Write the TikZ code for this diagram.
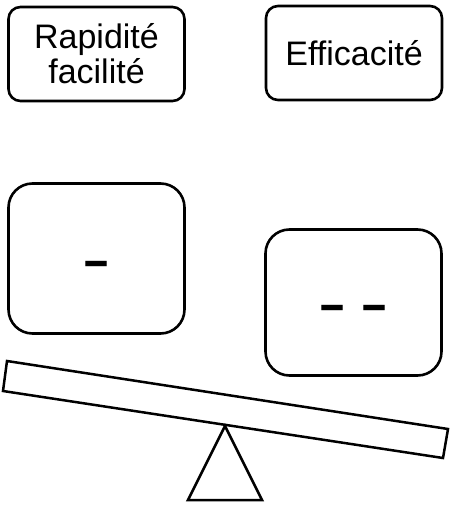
\documentclass[tikz,border=0pt]{standalone}
\usepackage{fontspec}
\setmainfont{Liberation Sans}
\usetikzlibrary{calc}

\begin{document}
\begin{tikzpicture}[x=1pt,y=-1pt]
      \tikzstyle{bloc}=[draw,rounded corners=12pt,line width=2.6pt,align=center,inner sep=0pt,font=\fontsize{34}{35}\selectfont]
      \tikzstyle{poids}=[bloc,rounded corners=24pt,minimum width=176pt,font=\fontsize{36}{36}\selectfont\bfseries]
      \useasboundingbox (0,0) rectangle (449,505);
      \node[bloc,minimum width=176pt,minimum height=94pt] (rapidite) at (96.5,54) {Rapidité\\facilité};
      \node[bloc,minimum width=176pt,minimum height=94pt] (efficacite) at (354,53) {Efficacité};
      \node[poids,minimum height=150pt] (moins) at (96.5,258.5) {\raisebox{-19.5pt}[0pt][0pt]{\scalebox{1.2}[1.5]{–}}};
      \node[poids,minimum height=146pt] (moinsmoins) at (353.5,302.5) {\raisebox{-19.5pt}[0pt][0pt]{\scalebox{1.2}[1.5]{–}\hspace{17pt}\scalebox{1.2}[1.5]{–}}};
      % planche et pivot
      \draw[line width=2.5pt] (7,361) -- (448,429) -- (443,458) -- (3,391) -- cycle;
      \draw[line width=2.5pt] (225,426) -- (262,500) -- (188,500) -- cycle;
    \end{tikzpicture}
\end{document}
